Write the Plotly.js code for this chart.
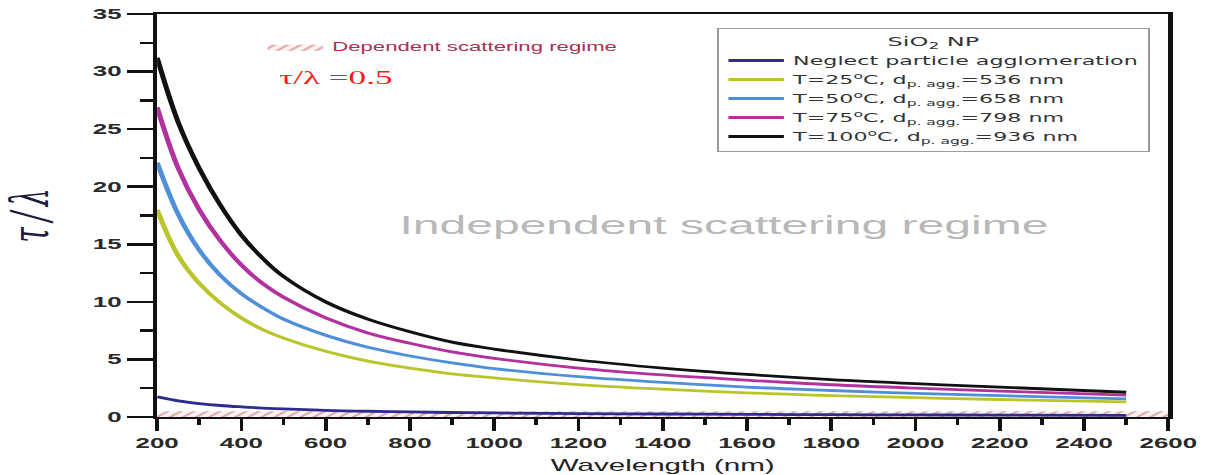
<!DOCTYPE html>
<html>
<head>
<meta charset="utf-8">
<script src="https://cdn.plot.ly/plotly-3.0.1.min.js"></script>
<style>
html, body { margin:0; padding:0; overflow:hidden; background:#fff; }
#wrap { width:1209px; height:475px; overflow:hidden; }
/* the reference figure is a horizontally stretched bitmap; draw at natural width and stretch */
#chart { width:654px; height:475px; transform:scaleX(1.8486); transform-origin:0 0; }
</style>
</head>
<body>
<div id="wrap"><div id="chart"></div></div>
<script>
// ---- data ----
const wavelength = [200, 250, 300, 350, 400, 450, 500, 600, 700, 800, 900, 1000, 1200, 1400, 1600, 1800, 2000, 2200, 2500];
const neglectAgg = [1.75, 1.40, 1.17, 1.00, 0.88, 0.78, 0.70, 0.58, 0.50, 0.44, 0.39, 0.35, 0.30, 0.26, 0.23, 0.20, 0.18, 0.16, 0.14];
const t25  = [18.0, 14.0, 11.6, 9.9, 8.6, 7.6, 6.85, 5.7, 4.85, 4.25, 3.75, 3.4, 2.82, 2.42, 2.1, 1.86, 1.68, 1.52, 1.32];
const t50  = [22.1, 17.6, 14.5, 12.3, 10.7, 9.5, 8.5, 7.1, 6.05, 5.3, 4.7, 4.2, 3.5, 3.0, 2.6, 2.3, 2.05, 1.85, 1.58];
const t75  = [26.9, 21.6, 18.0, 15.3, 13.2, 11.6, 10.4, 8.6, 7.3, 6.4, 5.65, 5.1, 4.25, 3.65, 3.2, 2.8, 2.5, 2.25, 1.9];
const t100 = [31.2, 25.6, 21.6, 18.4, 15.8, 13.8, 12.2, 10.0, 8.5, 7.4, 6.5, 5.9, 4.95, 4.25, 3.7, 3.25, 2.9, 2.6, 2.15];

const seriesNames = [
  'Neglect particle agglomeration',
  'T=25<sup>o</sup>C, d<sub>p. agg.</sub>=536 nm',
  'T=50<sup>o</sup>C, d<sub>p. agg.</sub>=658 nm',
  'T=75<sup>o</sup>C, d<sub>p. agg.</sub>=798 nm',
  'T=100<sup>o</sup>C, d<sub>p. agg.</sub>=936 nm'
];
const seriesValues = [neglectAgg, t25, t50, t75, t100];
const seriesColors = ['#2e2b92', '#b9c52a', '#4f8fd8', '#b3309f', '#111111'];

const xRange = [200, 2600];
const yRange = [0, 35];
const dependentThreshold = 0.5;   // tau/lambda limit of the dependent scattering regime

const traces = [];
// hatched dependent-scattering band
traces.push({
  type: 'scatter',
  x: [xRange[0], xRange[1], xRange[1], xRange[0], xRange[0]],
  y: [0, 0, dependentThreshold, dependentThreshold, 0],
  mode: 'lines',
  fill: 'toself',
  line: { width: 0, color: '#e0aaaa' },
  fillcolor: '#f9eeee',
  fillpattern: { shape: '/', fgcolor: '#dca2a2', bgcolor: '#fbf1f1', size: 5, solidity: 0.3 },
  name: 'Dependent scattering regime',
  legend: 'legend2',
  hoverinfo: 'skip'
});
seriesValues.forEach((vals, i) => {
  traces.push({
    type: 'scatter',
    mode: 'lines',
    x: wavelength,
    y: vals,
    name: seriesNames[i],
    line: { color: seriesColors[i], width: 2.8, shape: 'spline', smoothing: 1 }
  });
});

const axisCommon = {
  showline: true, linecolor: '#111', linewidth: 2.4, mirror: true,
  showgrid: false, zeroline: false,
  ticks: 'outside', tickcolor: '#111',
  tickfont: { family: 'Liberation Sans, Arial, sans-serif', size: 14, weight: 'bold', color: '#2a2a2a' }
};

const layout = {
  width: 654, height: 475,
  margin: { l: 85, r: 22, t: 14, b: 58 },
  paper_bgcolor: '#fff', plot_bgcolor: '#fff',
  font: { family: 'Liberation Sans, Arial, sans-serif', color: '#222' },
  xaxis: Object.assign({}, axisCommon, {
    range: xRange, tick0: 200, dtick: 200, ticklen: 12, tickwidth: 2,
    minor: { dtick: 100, ticks: 'outside', ticklen: 6, tickwidth: 2, tickcolor: '#111' },
    title: { text: 'Wavelength (nm)', font: { size: 16, color: '#222' }, standoff: 10 }
  }),
  yaxis: Object.assign({}, axisCommon, {
    range: yRange, dtick: 5, ticklen: 14, tickwidth: 2.5,
    minor: { dtick: 2.5, ticks: 'outside', ticklen: 7, tickwidth: 2.5, tickcolor: '#111' },
    title: { text: 'τ\u2009/\u2009λ', font: { family: 'DejaVu Serif, serif', size: 28, style: 'italic', color: '#1c1c40' }, standoff: 53 }
  }),
  legend: {
    x: 0.554, y: 0.965, xanchor: 'left', yanchor: 'top',
    bgcolor: '#fff', bordercolor: '#9a9a9a', borderwidth: 1,
    font: { family: 'DejaVu Sans, sans-serif', size: 12, color: '#333' },
    title: { text: 'SiO<sub>2</sub> NP', side: 'top center', font: { family: 'DejaVu Sans, sans-serif', size: 13, color: '#333' } },
    tracegroupgap: 0
  },
  legend2: {
    x: 0.1, y: 0.955, xanchor: 'left', yanchor: 'top',
    bgcolor: 'rgba(0,0,0,0)', borderwidth: 0,
    font: { size: 12, color: '#ad2f4f' }
  },
  annotations: [
    { xref: 'paper', yref: 'y', x: 0.561, y: 16.7, xanchor: 'center', text: 'Independent scattering regime', showarrow: false,
      font: { size: 26, color: '#b8b8b8' } },
    { xref: 'paper', yref: 'y', x: 0.117, y: 30.6, xanchor: 'left', yanchor: 'top', text: 'τ/λ =0.5', showarrow: false,
      font: { family: 'Liberation Serif, serif', size: 19, color: '#ff1a1a' } }
  ]
};

Plotly.newPlot('chart', traces, layout, { displayModeBar: false, staticPlot: true });
</script>
</body>
</html>
